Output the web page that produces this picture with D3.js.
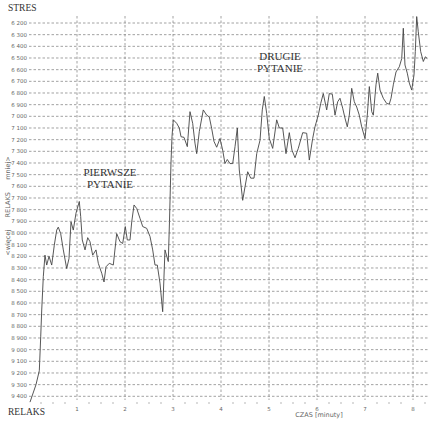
<!DOCTYPE html>
<html>
<head>
<meta charset="utf-8">
<script src="https://cdn.jsdelivr.net/npm/d3@7"></script>
<style>
  body { margin: 0; background: white; }
  .grid line { stroke: #8a8a8a; stroke-dasharray: 2.5 2; stroke-width: 0.8; }
  .ylab, .xlab { font: 5.5px "DejaVu Sans", sans-serif; fill: #666; }
</style>
</head>
<body>
<svg id="chart" width="428" height="422"></svg>
<script>
// time in minutes and the reading (higher = more relaxed)
var czas = [0.021,0.146,0.215,0.244,0.265,0.298,0.333,0.369,0.417,0.473,0.527,0.577,0.610,0.660,0.715,0.785,0.833,0.875,0.923,0.979,
  1.048,1.077,1.110,1.167,1.223,1.271,1.327,1.396,1.444,1.515,1.563,1.604,1.673,1.756,1.827,1.896,1.952,2.006,2.048,2.104,
  2.140,2.188,2.244,2.313,2.369,2.452,2.521,2.577,2.625,2.673,2.729,2.785,2.833,2.902,2.927,2.958,2.979,3.006,3.077,3.131,
  3.167,3.229,3.298,3.354,3.410,3.458,3.494,3.548,3.631,3.702,3.756,3.806,3.854,3.910,3.979,4.035,4.083,4.131,4.188,4.244,
  4.292,4.340,4.381,4.452,4.500,4.556,4.619,4.688,4.744,4.813,4.860,4.902,4.952,5.006,5.077,5.160,5.215,5.285,5.354,5.423,
  5.479,5.542,5.610,5.702,5.785,5.840,5.910,5.958,6.027,6.077,6.131,6.202,6.256,6.319,6.375,6.431,6.479,6.535,6.583,6.631,
  6.673,6.723,6.777,6.827,6.881,6.931,7.000,7.048,7.090,7.140,7.173,7.229,7.265,7.313,7.381,7.452,7.506,7.542,7.590,7.646,
  7.715,7.765,7.798,7.833,7.881,7.923,7.973,8.021,8.048,8.077,8.110,8.160,8.215,8.256,8.298];
var wartosc = [9450,9300,9180,8890,8660,8375,8190,8275,8200,8275,8105,7975,7950,8005,8145,8305,8220,7905,7975,7830,
  7730,7860,8060,8145,8040,8075,8190,8145,8260,8345,8420,8290,8260,8275,8005,8075,8090,7945,8060,8060,
  7905,7760,7790,7875,7945,7960,8030,8145,8275,8275,8430,8675,8145,8245,7900,7400,7175,7030,7060,7100,
  7175,7180,7260,6960,7060,7230,7320,7130,6945,6990,7005,7105,7215,7265,7190,7290,7405,7370,7405,7405,
  7260,7100,7460,7720,7605,7475,7530,7530,7320,7205,6945,6830,6975,7190,7275,7030,7100,7100,7320,7140,
  7290,7355,7275,7140,7145,7375,7190,7090,6990,6890,6805,6945,6805,6810,6990,6875,6845,6930,7015,7090,
  6990,6760,6875,6920,6990,7090,7190,6990,6745,6960,6990,6730,6630,6775,6845,6890,6895,6845,6730,6620,
  6575,6505,6245,6560,6630,6715,6775,6645,6445,6145,6275,6445,6530,6490,6505];

var yTicks = d3.range(6200, 9401, 100);
var xTicks = [1, 2, 3, 4, 5, 6, 7, 8];
var xMinor = d3.range(0.25, 8.3, 0.25).filter(function(t) { return Math.abs(t - Math.round(t)) > 0.01; });

var svg = d3.select("#chart");
var x = d3.scaleLinear().domain([0, 8]).range([29, 413]);
var y = d3.scaleLinear().domain([6200, 9400]).range([23, 396.3]);

function fmt(v) { return d3.format(",")(v).replace(",", " "); }

// horizontal grid
var grid = svg.append("g").attr("class", "grid");
grid.selectAll("line.h").data(yTicks).enter().append("line")
    .attr("class", "h")
    .attr("x1", 29).attr("x2", 428)
    .attr("y1", function(d) { return y(d); }).attr("y2", function(d) { return y(d); });
// vertical grid
grid.selectAll("line.v").data(xTicks).enter().append("line")
    .attr("class", "v")
    .attr("x1", function(d) { return x(d); }).attr("x2", function(d) { return x(d); })
    .attr("y1", 16).attr("y2", 400);

svg.selectAll("text.ylab").data(yTicks).enter().append("text")
    .attr("class", "ylab")
    .attr("x", 27).attr("y", function(d) { return y(d) + 2; })
    .attr("text-anchor", "end")
    .text(fmt);

svg.selectAll("text.xlab").data(xTicks).enter().append("text")
    .attr("class", "xlab")
    .attr("x", function(d) { return x(d); }).attr("y", 411)
    .attr("text-anchor", "middle")
    .text(function(d) { return d; });

svg.selectAll("line.minor").data(xMinor).enter().append("line")
    .attr("x1", function(d) { return x(d); }).attr("x2", function(d) { return x(d); })
    .attr("y1", 402).attr("y2", 404)
    .attr("stroke", "#999").attr("stroke-width", 0.7);

// the line
var line = d3.line()
    .x(function(d, i) { return x(czas[i]); })
    .y(function(d) { return y(d); });
svg.append("path")
    .datum(wartosc)
    .attr("d", line)
    .attr("fill", "none")
    .attr("stroke", "#444")
    .attr("stroke-width", 0.9)
    .attr("stroke-linejoin", "round");

// labels
var serif = "'Liberation Serif', 'DejaVu Serif', serif";
svg.append("text").attr("x", 8).attr("y", 11).text("STRES")
    .style("font", "9.5px " + serif).attr("fill", "#333");
svg.append("text").attr("x", 8).attr("y", 415).text("RELAKS")
    .style("font", "9.5px " + serif).attr("fill", "#333");

svg.append("text")
    .attr("transform", "translate(10,206) rotate(-90)")
    .attr("text-anchor", "middle")
    .style("font", "6.5px 'DejaVu Sans', sans-serif")
    .attr("fill", "#666")
    .attr("xml:space", "preserve")
    .text("<więcej      RELAKS      mniej>");

svg.append("text").attr("x", 319).attr("y", 417)
    .attr("text-anchor", "middle")
    .style("font", "6.5px 'DejaVu Sans', sans-serif")
    .attr("fill", "#666")
    .text("CZAS [minuty]");

function note(cx, cy, lines) {
    lines.forEach(function(t, i) {
        svg.append("text").attr("x", cx).attr("y", cy + i * 12)
            .attr("text-anchor", "middle")
            .style("font", "11px " + serif)
            .attr("fill", "#333")
            .text(t);
    });
}
note(110, 176, ["PIERWSZE", "PYTANIE"]);
note(280, 60, ["DRUGIE", "PYTANIE"]);
</script>
</body>
</html>
